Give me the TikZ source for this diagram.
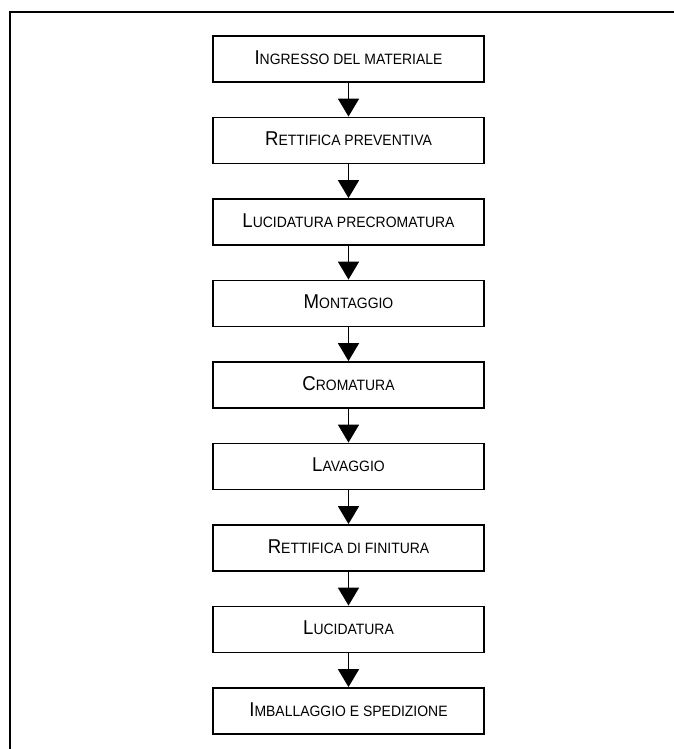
\documentclass[tikz,border=0pt]{standalone}
\usepackage{fontspec}
\setmainfont{Liberation Sans}[FakeStretch=0.93]
\usetikzlibrary{arrows.meta}
\newcommand{\capsbig}[2]{{\fontsize{20}{21}\selectfont #1}{\fontsize{15}{16}\selectfont #2}}
\tikzset{
  stepbox/.style={draw, line width=1.8pt, minimum width=271pt, minimum height=46pt,
    inner sep=0pt, text height=13pt, text depth=2pt, align=center},
  flowarrow/.style={line width=1.6pt, -{Triangle[length=18pt,width=21pt]}},
  frameline/.style={line width=2pt}
}
\begin{document}
\begin{tikzpicture}[x=1pt,y=1pt]
\useasboundingbox (0,0) rectangle (674,749);
\draw[frameline] (10,0) -- (10,737) -- (674,737);
\node[stepbox] (b1) at (348.5,690) {\capsbig{I}{NGRESSO DEL MATERIALE}};
\node[stepbox] (b2) at (348.5,608.5) {\capsbig{R}{ETTIFICA PREVENTIVA}};
\node[stepbox] (b3) at (348.5,527) {\capsbig{L}{UCIDATURA PRECROMATURA}};
\node[stepbox] (b4) at (348.5,445.5) {\capsbig{M}{ONTAGGIO}};
\node[stepbox] (b5) at (348.5,364) {\capsbig{C}{ROMATURA}};
\node[stepbox] (b6) at (348.5,282.5) {\capsbig{L}{AVAGGIO}};
\node[stepbox] (b7) at (348.5,201) {\capsbig{R}{ETTIFICA DI FINITURA}};
\node[stepbox] (b8) at (348.5,119.5) {\capsbig{L}{UCIDATURA}};
\node[stepbox] (b9) at (348.5,38) {\capsbig{I}{MBALLAGGIO E SPEDIZIONE}};
\foreach \a/\b in {b1/b2,b2/b3,b3/b4,b4/b5,b5/b6,b6/b7,b7/b8,b8/b9}
  \draw[flowarrow] (\a.south) -- (\b.north);
\end{tikzpicture}
\end{document}
